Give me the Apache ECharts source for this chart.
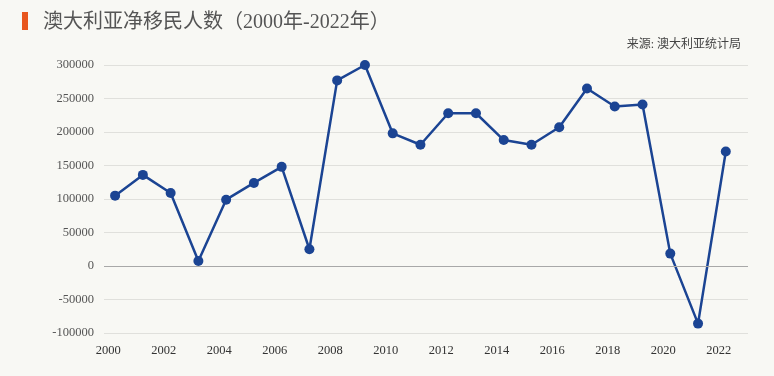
<!DOCTYPE html>
<html>
<head>
<meta charset="utf-8">
<script src="https://cdn.jsdelivr.net/npm/echarts@6/dist/echarts.min.js"></script>
<style>
  html, body { margin: 0; padding: 0; background: #f8f8f4; }
  #main { width: 774px; height: 376px; }
</style>
</head>
<body>
<div id="main"></div>
<script>
// net overseas migration, Australia
var years = [2000, 2001, 2002, 2003, 2004, 2005, 2006, 2007, 2008, 2009, 2010, 2011,
  2012, 2013, 2014, 2015, 2016, 2017, 2018, 2019, 2020, 2021, 2022];
var netMigration = [105000, 136000, 109000, 7500, 99000, 124000, 148000, 25000, 277000, 300000,
  198000, 181000, 228000, 228000, 188000, 181000, 207000, 265000, 238000, 241000, 18500, -86000, 171000];
var yearLabels = [2000, 2002, 2004, 2006, 2008, 2010, 2012, 2014, 2016, 2018, 2020, 2022];

var chartDom = document.getElementById('main');
var myChart = echarts.init(chartDom);
var option;

var serifFont = '"Liberation Serif", "DejaVu Serif", "Noto Sans CJK SC", serif';

option = {
  backgroundColor: '#f8f8f4',
  graphic: [
    {
      type: 'rect',
      left: 22,
      top: 12,
      shape: { width: 6, height: 18 },
      style: { fill: '#e8561e' }
    }
  ],
  title: [
    {
      text: '澳大利亚净移民人数（2000年-2022年）',
      left: 38,
      top: 8,
      textStyle: {
        color: '#555',
        fontSize: 20,
        fontWeight: 'normal',
        fontFamily: serifFont
      }
    },
    {
      text: '来源: 澳大利亚统计局',
      right: 28,
      top: 34,
      textStyle: {
        color: '#444',
        fontSize: 12,
        fontWeight: 'normal',
        fontFamily: serifFont
      }
    }
  ],
  grid: {
    left: 104,
    right: 26,
    top: 65,
    bottom: 43
  },
  xAxis: {
    type: 'value',
    min: 1999.6,
    max: 2022.8,
    splitLine: { show: false },
    axisLine: { show: false },
    axisTick: { show: false },
    axisLabel: {
      customValues: yearLabels.map(function (y) { return y - 0.25; }),
      formatter: function (v) { return String(Math.round(v)); },
      color: '#333',
      fontSize: 12.5,
      fontFamily: serifFont,
      margin: 11
    }
  },
  yAxis: {
    type: 'value',
    min: -100000,
    max: 300000,
    interval: 50000,
    axisLine: { show: false },
    axisTick: { show: false },
    axisLabel: {
      formatter: function (v) { return String(v); },
      color: '#555',
      fontSize: 12.5,
      fontFamily: serifFont,
      margin: 10
    },
    splitLine: {
      lineStyle: { color: '#e0e0dc', width: 1 }
    }
  },
  series: [
    {
      type: 'line',
      data: years.map(function (y, i) { return [y, netMigration[i]]; }),
      symbol: 'circle',
      symbolSize: 10,
      lineStyle: { color: '#1b4493', width: 2.5 },
      itemStyle: { color: '#1b4493' },
      markLine: {
        silent: true,
        symbol: 'none',
        label: { show: false },
        lineStyle: { color: '#a8a8a8', type: 'solid', width: 1 },
        data: [{ yAxis: 0 }]
      },
      z: 3
    }
  ]
};

option && myChart.setOption(option);
</script>
</body>
</html>
